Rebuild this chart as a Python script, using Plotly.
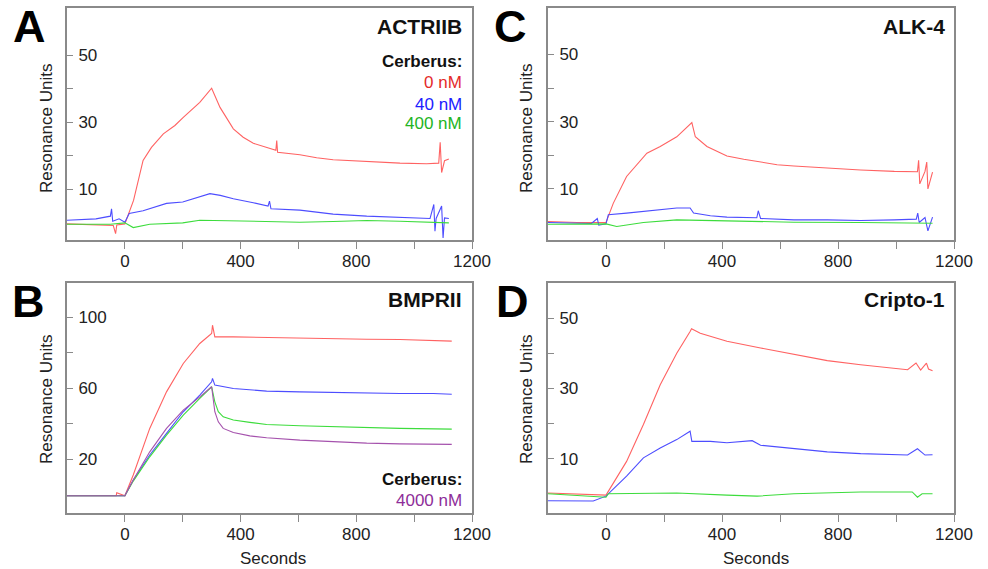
import plotly.graph_objects as go

# ---------------- data ----------------
# Panel A: ACTRIIB
A_red_t = [-200, -100, -40, -32, -28, 0, 30, 63, 92, 133, 173, 202, 259, 300, 329, 375, 409, 444, 490, 522, 525, 528, 605, 663, 720, 836, 951, 1043, 1085, 1090, 1095, 1105, 1120]
A_red_v = [-0.3, -0.6, -0.8, -3.2, -0.6, -0.3, 6.7, 18.6, 22.5, 26.5, 29.0, 31.4, 35.9, 40.1, 34.4, 28.0, 25.5, 23.7, 22.5, 21.6, 24.5, 21.0, 20.3, 19.4, 18.8, 18.2, 17.8, 17.6, 17.8, 24.0, 15.0, 18.5, 19.0]
A_blue_t = [-200, -100, -50, -46, -42, -20, 0, 15, 63, 144, 200, 259, 294, 330, 375, 444, 495, 500, 505, 605, 720, 836, 951, 1055, 1068, 1072, 1076, 1095, 1100, 1105, 1120]
A_blue_v = [0.8, 1.2, 2.0, 4.2, 0.5, 1.2, 0.2, 2.8, 3.6, 5.8, 6.2, 7.7, 8.7, 8.2, 7.2, 6.0, 5.0, 6.5, 4.2, 3.8, 2.6, 2.0, 1.6, 1.3, 5.5, -2.5, 1.3, 5.0, -4.5, 1.5, 1.3]
A_green_t = [-200, -50, 0, 29, 86, 200, 259, 400, 520, 605, 720, 836, 951, 1066, 1120]
A_green_v = [-0.4, -0.4, 0.0, -1.4, -0.4, 0.0, 0.8, 0.5, 0.2, 0.2, 0.4, 0.7, 0.5, 0.2, 0.0]

# Panel B: BMPRII
B_red_t = [-200, -30, -28, 0, 29, 86, 144, 202, 259, 300, 303, 311, 375, 490, 520, 605, 720, 836, 951, 1066, 1130]
B_red_v = [-0.7, -0.7, 1.0, -0.7, 11.0, 37.3, 57.9, 73.9, 85.2, 90.8, 95.5, 88.9, 88.9, 88.5, 88.5, 88.4, 88.0, 87.6, 87.4, 87.0, 86.5]
B_blue_t = [-200, 0, 29, 86, 144, 202, 259, 300, 303, 311, 375, 490, 605, 720, 836, 951, 1066, 1130]
B_blue_v = [-0.7, -0.7, 8.2, 22.3, 34.5, 46.7, 56.1, 63.6, 65.5, 61.7, 59.8, 58.3, 57.9, 57.6, 57.0, 57.0, 57.0, 56.6]
B_green_t = [-200, 0, 29, 86, 144, 202, 259, 300, 311, 323, 340, 375, 432, 490, 605, 720, 836, 951, 1130]
B_green_v = [-0.7, -0.7, 7.6, 21.3, 33.5, 44.8, 54.2, 60.8, 52.3, 46.7, 43.8, 42.0, 40.7, 39.5, 38.8, 38.2, 37.7, 37.3, 36.9]
B_purple_t = [-200, 0, 29, 86, 144, 202, 259, 300, 311, 323, 340, 375, 432, 490, 605, 720, 836, 951, 1130]
B_purple_v = [-0.7, -0.7, 8.2, 24.1, 37.3, 47.6, 55.1, 60.8, 46.7, 41.0, 37.3, 35.0, 33.1, 32.0, 30.7, 29.8, 29.0, 28.6, 28.3]

# Panel C: ALK-4
C_red_t = [-200, -100, 0, 25, 71, 106, 141, 187, 244, 296, 308, 348, 417, 475, 533, 590, 648, 763, 878, 994, 1074, 1078, 1082, 1100, 1106, 1110, 1126]
C_red_v = [0.3, 0.0, 0.0, 5.7, 13.7, 17.1, 20.6, 22.6, 25.5, 29.7, 25.5, 22.6, 19.8, 18.8, 17.9, 17.2, 16.8, 16.1, 15.6, 15.2, 15.1, 18.5, 11.5, 15.2, 18.0, 10.0, 15.0]
C_blue_t = [-200, -50, -30, -25, 0, 8, 71, 129, 187, 244, 290, 302, 360, 417, 520, 525, 533, 648, 763, 878, 994, 1070, 1075, 1080, 1100, 1110, 1126]
C_blue_v = [0.0, -0.3, 1.2, -0.8, -0.4, 2.3, 2.8, 3.3, 4.0, 4.3, 4.3, 2.8, 2.0, 1.6, 1.4, 3.5, 1.2, 0.8, 0.8, 0.6, 0.8, 1.0, 2.8, 0.0, 1.5, -2.5, 1.6]
C_green_t = [-200, 0, 37, 129, 244, 417, 648, 878, 1126]
C_green_v = [-0.5, -0.4, -1.2, 0.0, 0.8, 0.5, 0.1, 0.0, -0.2]

# Panel D: Cripto-1
D_red_t = [-200, -100, 0, 71, 129, 187, 244, 290, 295, 325, 417, 533, 648, 763, 878, 994, 1040, 1069, 1085, 1105, 1112, 1126]
D_red_v = [0.2, -0.1, -0.4, 9.2, 19.7, 31.0, 40.0, 46.2, 47.0, 45.7, 43.4, 41.5, 39.6, 37.9, 36.7, 35.8, 35.3, 37.2, 35.2, 37.2, 35.5, 35.0]
D_blue_t = [-200, -44, 0, 71, 129, 187, 244, 290, 296, 360, 417, 504, 533, 648, 763, 878, 994, 1040, 1074, 1100, 1126]
D_blue_v = [-2.0, -2.1, -0.7, 5.0, 10.2, 13.0, 15.4, 17.8, 14.9, 14.9, 14.5, 15.1, 13.8, 12.8, 11.9, 11.4, 11.1, 11.0, 12.8, 11.0, 11.1]
D_green_t = [-200, 0, 8, 244, 417, 521, 648, 763, 878, 1056, 1074, 1090, 1126]
D_green_v = [0.0, -1.0, 0.0, 0.2, -0.4, -0.7, 0.0, 0.2, 0.5, 0.5, -1.0, 0.0, 0.0]

panel_letters = ["A", "B", "C", "D"]
panel_titles = ["ACTRIIB", "BMPRII", "ALK-4", "Cripto-1"]
legend_A = ["0 nM", "40 nM", "400 nM"]
legend_B = ["4000 nM"]
x_tickvals = [0, 200, 400, 600, 800, 1000, 1200]
x_ticktext = ["0", "", "400", "", "800", "", "1200"]
yA_tickvals = [10, 20, 30, 40, 50]
yA_ticktext = ["10", "", "30", "", "50"]
yB_tickvals = [20, 40, 60, 80, 100]
yB_ticktext = ["20", "", "60", "", "100"]

# ---------------- styling ----------------
W, H = 988, 569
FONT = "Liberation Sans, Arial, Helvetica, sans-serif"
RED, BLUE, GREEN, PURPLE = "#ff6262", "#4d4dff", "#3ddc3d", "#a552ad"
TRED, TBLUE, TGREEN, TPURPLE = "#e42a2a", "#2020ff", "#22b422", "#8e2d99"
BOX = "#8a8a8a"

def px(x):
    return x / W

def py(y):
    return 1 - y / H

fig = go.Figure()

panels = {
    "A": dict(xa="x", ya="y", dom_x=(67, 472), dom_y=(8, 240), yr=(-5.1, 64.0), yt=(yA_tickvals, yA_ticktext)),
    "B": dict(xa="x2", ya="y2", dom_x=(67, 472), dom_y=(283, 513), yr=(-10.4, 119.3), yt=(yB_tickvals, yB_ticktext)),
    "C": dict(xa="x3", ya="y3", dom_x=(548, 954), dom_y=(8, 240), yr=(-5.2, 63.8), yt=(yA_tickvals, yA_ticktext)),
    "D": dict(xa="x4", ya="y4", dom_x=(548, 954), dom_y=(283, 513), yr=(-5.5, 60.0), yt=(yA_tickvals, yA_ticktext)),
}

series = {
    "A": [(A_red_t, A_red_v, RED), (A_blue_t, A_blue_v, BLUE), (A_green_t, A_green_v, GREEN)],
    "B": [(B_red_t, B_red_v, RED), (B_blue_t, B_blue_v, BLUE), (B_green_t, B_green_v, GREEN), (B_purple_t, B_purple_v, PURPLE)],
    "C": [(C_red_t, C_red_v, RED), (C_blue_t, C_blue_v, BLUE), (C_green_t, C_green_v, GREEN)],
    "D": [(D_red_t, D_red_v, RED), (D_blue_t, D_blue_v, BLUE), (D_green_t, D_green_v, GREEN)],
}

layout_axes = {}
for i, key in enumerate(["A", "B", "C", "D"]):
    p = panels[key]
    for t, v, c in series[key]:
        fig.add_trace(go.Scatter(x=t, y=v, mode="lines", line=dict(color=c, width=1.1),
                                 xaxis=p["xa"], yaxis=p["ya"], showlegend=False, hoverinfo="skip"))
    suffix = "" if i == 0 else str(i + 1)
    layout_axes["xaxis" + suffix] = dict(
        domain=[px(p["dom_x"][0]), px(p["dom_x"][1])], anchor=p["ya"], range=[-200, 1200],
        tickvals=x_tickvals, ticktext=x_ticktext, ticks="outside", ticklen=7, tickwidth=1.3,
        tickcolor=BOX, showline=True, linecolor=BOX, linewidth=1.6, mirror=True,
        ticklabelstandoff=-2, automargin=False,
        showgrid=False, zeroline=False, tickfont=dict(size=17, color="#222", family=FONT),
    )
    layout_axes["yaxis" + suffix] = dict(
        domain=[py(p["dom_y"][1]), py(p["dom_y"][0])], anchor=p["xa"], range=list(p["yr"]),
        tickvals=p["yt"][0], ticktext=p["yt"][1], ticks="inside", ticklen=6, tickwidth=1.3,
        tickcolor=BOX, ticklabelposition="inside", ticklabelstandoff=6, automargin=False,
        showline=True, linecolor=BOX, linewidth=1.6,
        mirror=True, showgrid=False, zeroline=False, tickfont=dict(size=17, color="#222", family=FONT),
    )

fig.update_layout(width=W, height=H, autosize=False,
                  margin=dict(l=0, r=0, t=0, b=0, autoexpand=False),
                  paper_bgcolor="white", plot_bgcolor="white", showlegend=False,
                  font=dict(family=FONT), **layout_axes)

ann = []
def text(x, y, s, size=17, color="#222", bold=False, xanchor="center", angle=0):
    ann.append(dict(x=px(x), y=py(y), xref="paper", yref="paper", text=("<b>%s</b>" % s) if bold else s,
                    showarrow=False, xanchor=xanchor, yanchor="middle", textangle=angle,
                    font=dict(size=size, color=color, family=FONT)))

# panel letters
text(29, 26, panel_letters[0], size=45, color="#000", bold=True)
text(28, 301, panel_letters[1], size=45, color="#000", bold=True)
text(511, 26, panel_letters[2], size=45, color="#000", bold=True)
text(512, 301, panel_letters[3], size=45, color="#000", bold=True)

# panel titles
R1, R2 = 464, 947
text(R1, 26, panel_titles[0], size=21, color="#111", bold=True, xanchor="right")
text(R1, 299, panel_titles[1], size=21, color="#111", bold=True, xanchor="right")
text(R2, 26, panel_titles[2], size=21, color="#111", bold=True, xanchor="right")
text(R2, 299, panel_titles[3], size=21, color="#111", bold=True, xanchor="right")

# legends
text(R1, 62, "Cerberus:", size=17, color="#111", bold=True, xanchor="right")
text(R1, 83, legend_A[0], size=17, color=TRED, xanchor="right")
text(R1, 104, legend_A[1], size=17, color=TBLUE, xanchor="right")
text(R1, 124, legend_A[2], size=17, color=TGREEN, xanchor="right")
text(R1, 479, "Cerberus:", size=17, color="#111", bold=True, xanchor="right")
text(R1, 500, legend_B[0], size=17, color=TPURPLE, xanchor="right")

# axis titles
for xx, yy in [(46, 129), (46, 400), (526, 129), (526, 400)]:
    text(xx, yy, "Resonance Units", size=17, color="#222", angle=-90)
text(273, 558, "Seconds", size=17, color="#222")
text(756, 558, "Seconds", size=17, color="#222")

fig.update_layout(annotations=ann)
fig.write_html("out.html", config={"displayModeBar": False, "responsive": False},
               post_script="document.body.style.margin='0';document.body.style.overflow='hidden';")
